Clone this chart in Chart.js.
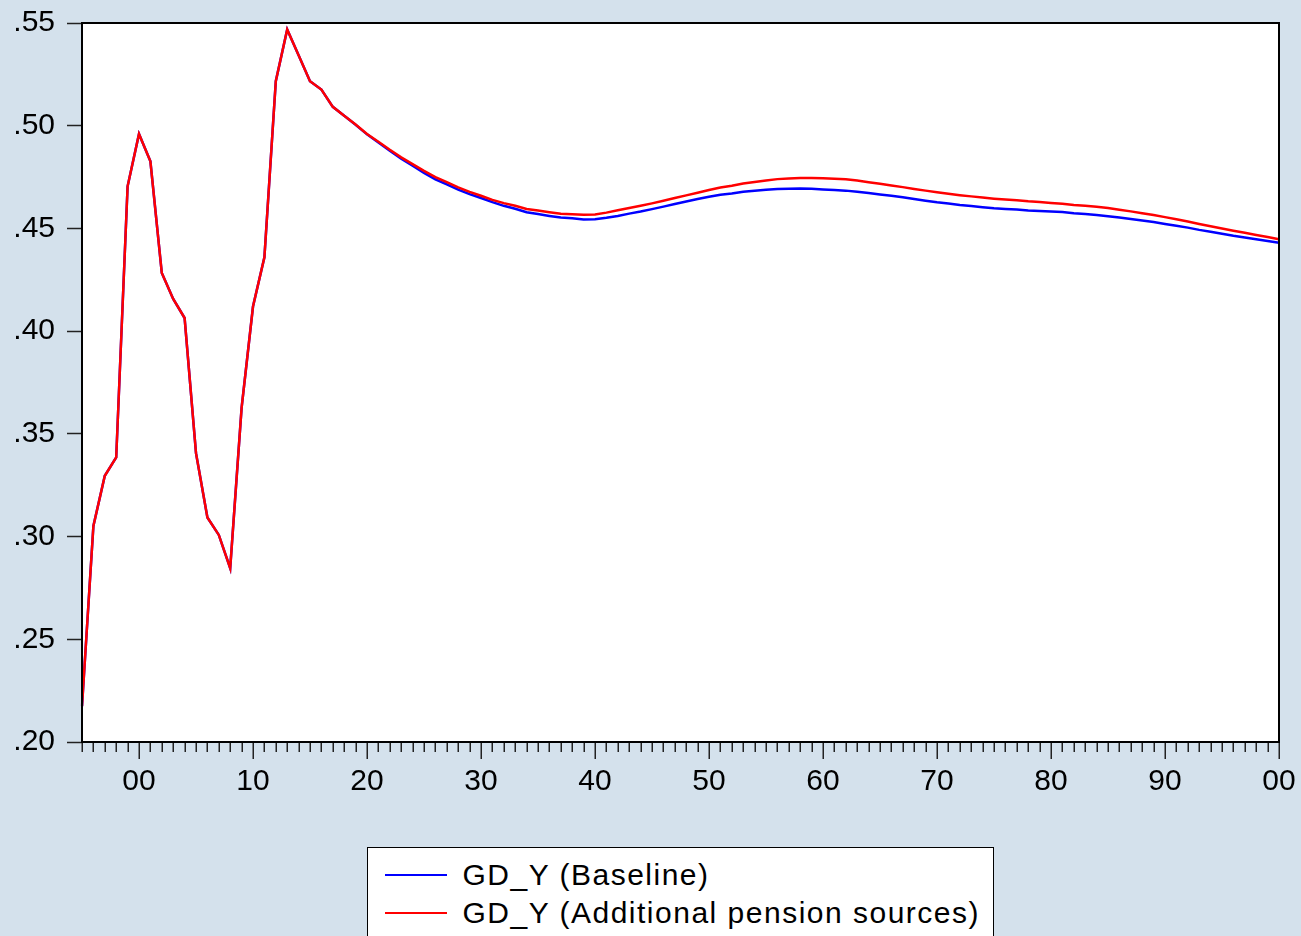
<!DOCTYPE html>
<html>
<head>
<meta charset="utf-8">
<script src="https://cdn.jsdelivr.net/npm/chart.js@4.4.0/dist/chart.umd.min.js"></script>
<style>
html,body{margin:0;padding:0;background:#D4E1EC;}
#wrap{position:relative;width:1301px;height:936px;overflow:hidden;background:#D4E1EC;}
#c{position:absolute;left:0;top:0;}
#legend{position:absolute;left:367px;top:847px;width:627px;height:120px;background:#fff;border:1.5px solid #000;box-sizing:border-box;font-family:"Liberation Sans",Arial,sans-serif;font-size:30px;color:#000;}
.row{position:absolute;left:0;height:38px;width:620px;}
.sw{position:absolute;left:16.5px;top:18px;width:62px;height:2.5px;}
.txt{position:absolute;left:94.5px;top:0;line-height:38px;white-space:nowrap;letter-spacing:1.5px;}
</style>
</head>
<body>
<div id="wrap">
<canvas id="c" width="1301" height="936"></canvas>
<div id="legend">
  <div class="row" style="top:7.5px"><div class="sw" style="background:#0000FF"></div><div class="txt" id="l0"></div></div>
  <div class="row" style="top:45.5px"><div class="sw" style="background:#FF0000"></div><div class="txt" id="l1"></div></div>
</div>
</div>
<script>
const years = [1995,1996,1997,1998,1999,2000,2001,2002,2003,2004,2005,2006,2007,2008,2009,2010,2011,2012,2013,2014,2015,2016,2017,2018,2019,2020,2021,2022,2023,2024,2025,2026,2027,2028,2029,2030,2031,2032,2033,2034,2035,2036,2037,2038,2039,2040,2041,2042,2043,2044,2045,2046,2047,2048,2049,2050,2051,2052,2053,2054,2055,2056,2057,2058,2059,2060,2061,2062,2063,2064,2065,2066,2067,2068,2069,2070,2071,2072,2073,2074,2075,2076,2077,2078,2079,2080,2081,2082,2083,2084,2085,2086,2087,2088,2089,2090,2091,2092,2093,2094,2095,2096,2097,2098,2099,2100];

const baseline = [0.2175,0.3052,0.3296,0.3385,0.4705,0.4960,0.4827,0.4283,0.4157,0.4064,0.3406,0.3093,0.3008,0.2846,0.3626,0.4120,0.4359,0.5217,0.5468,0.5343,0.5217,0.5176,0.5092,0.5048,0.5005,0.4958,0.4918,0.4878,0.4839,0.4805,0.4770,0.4739,0.4714,0.4689,0.4667,0.4648,0.4628,0.4610,0.4596,0.4579,0.4570,0.4561,0.4553,0.4549,0.4544,0.4545,0.4552,0.4561,0.4572,0.4582,0.4594,0.4606,0.4619,0.4631,0.4643,0.4654,0.4664,0.4670,0.4679,0.4683,0.4688,0.4692,0.4693,0.4694,0.4693,0.4690,0.4687,0.4684,0.4679,0.4672,0.4665,0.4659,0.4652,0.4643,0.4635,0.4627,0.4621,0.4614,0.4609,0.4603,0.4598,0.4595,0.4592,0.4587,0.4585,0.4582,0.4580,0.4574,0.4570,0.4565,0.4559,0.4553,0.4546,0.4539,0.4531,0.4522,0.4513,0.4504,0.4493,0.4484,0.4474,0.4464,0.4456,0.4447,0.4439,0.4430];

const additional = [0.2175,0.3052,0.3296,0.3385,0.4705,0.4960,0.4827,0.4283,0.4157,0.4064,0.3406,0.3093,0.3008,0.2846,0.3626,0.4120,0.4359,0.5217,0.5468,0.5343,0.5217,0.5176,0.5092,0.5048,0.5006,0.4960,0.4922,0.4883,0.4846,0.4813,0.4780,0.4750,0.4725,0.4700,0.4678,0.4659,0.4639,0.4623,0.4610,0.4595,0.4587,0.4579,0.4572,0.4569,0.4566,0.4568,0.4577,0.4588,0.4599,0.4610,0.4622,0.4635,0.4648,0.4661,0.4674,0.4687,0.4699,0.4708,0.4719,0.4726,0.4733,0.4740,0.4743,0.4745,0.4745,0.4744,0.4742,0.4739,0.4733,0.4725,0.4717,0.4709,0.4701,0.4692,0.4684,0.4676,0.4669,0.4662,0.4656,0.4650,0.4645,0.4641,0.4637,0.4632,0.4629,0.4624,0.4620,0.4614,0.4610,0.4605,0.4599,0.4591,0.4583,0.4574,0.4565,0.4555,0.4545,0.4534,0.4522,0.4511,0.4500,0.4489,0.4479,0.4468,0.4458,0.4447];

const seriesNames = ["GD_Y (Baseline)", "GD_Y (Additional pension sources)"];
const yTicks = [0.20,0.25,0.30,0.35,0.40,0.45,0.50,0.55];

document.getElementById('l0').textContent = seriesNames[0];
document.getElementById('l1').textContent = seriesNames[1];

const FONT = "'Liberation Sans', Arial, sans-serif";

const framePlugin = {
  id: 'frame',
  beforeDraw(chart) {
    const {ctx, chartArea: a} = chart;
    ctx.save();
    ctx.fillStyle = '#FFFFFF';
    ctx.fillRect(a.left, a.top, a.right - a.left, a.bottom - a.top);
    ctx.restore();
  },
  afterDraw(chart) {
    const {ctx, chartArea: a} = chart;
    const xs = chart.scales.x;
    ctx.save();
    ctx.strokeStyle = '#222';
    ctx.lineWidth = 1.5;
    years.forEach((yr, i) => {
      const px = Math.round(xs.getPixelForValue(i)) + 0.25;
      const len = (yr % 10 === 0) ? 17 : 10;
      ctx.beginPath();
      ctx.moveTo(px, a.bottom);
      ctx.lineTo(px, a.bottom + len);
      ctx.stroke();
    });
    ctx.strokeStyle = '#000';
    ctx.lineWidth = 2;
    ctx.strokeRect(a.left, a.top, a.right - a.left, a.bottom - a.top);
    ctx.restore();
  }
};

new Chart(document.getElementById('c'), {
  type: 'line',
  data: {
    labels: years,
    datasets: [
      {label: seriesNames[0], data: baseline, borderColor: '#0000FF', borderWidth: 2.5, pointRadius: 0, tension: 0, order: 1},
      {label: seriesNames[1], data: additional, borderColor: '#FF0000', borderWidth: 2.5, pointRadius: 0, tension: 0, order: 0}
    ]
  },
  options: {
    responsive: false,
    animation: false,
    events: [],
    layout: {padding: {top: 23, right: 22, left: 0, bottom: 0}},
    plugins: {legend: {display: false}, tooltip: {enabled: false}},
    scales: {
      x: {
        type: 'category',
        offset: false,
        grid: {display: false, drawTicks: false},
        border: {display: false},
        afterFit(s) { s.height = 936 - 742; s.paddingLeft = 0; s.paddingRight = 0; },
        ticks: {
          autoSkip: false,
          maxRotation: 0,
          minRotation: 0,
          padding: 22,
          color: '#000',
          font: {family: FONT, size: 30},
          callback(v, i) {
            const yr = years[i];
            return (yr % 10 === 0) ? String(yr % 100).padStart(2, '0') : '';
          }
        }
      },
      y: {
        type: 'linear',
        min: yTicks[0],
        max: yTicks[yTicks.length - 1],
        afterFit(s) { s.width = 82; s.paddingTop = 0; s.paddingBottom = 0; },
        afterBuildTicks(s) { s.ticks = yTicks.map(v => ({value: v})); },
        grid: {drawOnChartArea: false, drawTicks: true, tickLength: 15, tickColor: '#222', tickWidth: 1.5},
        border: {display: false},
        ticks: {
          padding: 12,
          color: '#000',
          font: {family: FONT, size: 30},
          callback(v) { return v.toFixed(2).replace(/^0/, ''); }
        }
      }
    }
  },
  plugins: [framePlugin]
});
</script>
</body>
</html>
